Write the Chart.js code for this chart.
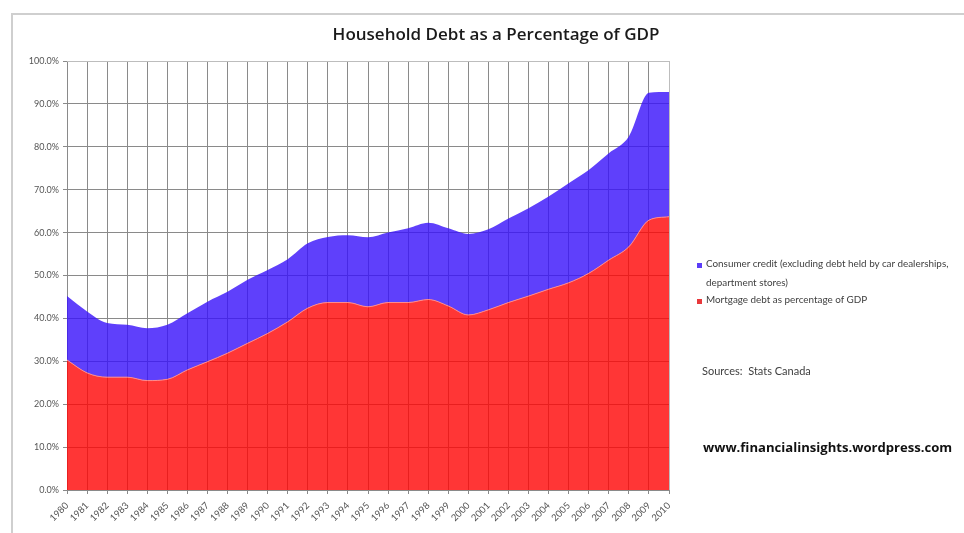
<!DOCTYPE html>
<html>
<head>
<meta charset="utf-8">
<script src="https://cdn.jsdelivr.net/npm/chart.js@4/dist/chart.umd.min.js"></script>
<style>
  html, body { margin: 0; padding: 0; background: #fff; }
  #wrap { position: relative; width: 964px; height: 533px; overflow: hidden; }
  #frame { position: absolute; left: 11px; top: 13px; width: 960px; height: 530px;
           border-left: 2px solid #cfcfcf; border-top: 2px solid #cfcfcf; }
  canvas { position: absolute; left: 0; top: 0; }
  .txt { position: absolute; white-space: nowrap; color: #404040; }
  #title { left: 496px; top: 22px; transform: translateX(-50%);
           font: 600 17px "Open Sans", sans-serif; color: #1a1a1a; }
  .leg { font: 9.9px Lato, sans-serif; }
  .sw { position: absolute; width: 5px; height: 5px; }
  #src { left: 702px; top: 364px; font: 11px Lato, sans-serif; }
  #url { left: 703px; top: 438px; font: bold 13.1px "Open Sans", sans-serif; color: #111; }
</style>
</head>
<body>
<div id="wrap">
  <div id="frame"></div>
  <canvas id="chart" width="964" height="533"></canvas>
  <div id="title" class="txt">Household Debt as a Percentage of GDP</div>
  <div class="sw" style="left:697px;top:263px;background:#5b3cf8"></div>
  <div class="txt leg" style="left:706px;top:257px">Consumer credit (excluding debt held by car dealerships,</div>
  <div class="txt leg" style="left:706px;top:276px">department stores)</div>
  <div class="sw" style="left:697px;top:299px;background:#e8383b"></div>
  <div class="txt leg" style="left:706px;top:293px">Mortgage debt as percentage of GDP</div>
  <div id="src" class="txt">Sources:&nbsp; Stats Canada</div>
  <div id="url" class="txt">www.financialinsights.wordpress.com</div>
</div>
<script>
const years = ['1980','1981','1982','1983','1984','1985','1986','1987','1988','1989',
  '1990','1991','1992','1993','1994','1995','1996','1997','1998','1999',
  '2000','2001','2002','2003','2004','2005','2006','2007','2008','2009','2010'];

// mortgage debt, % of GDP
const mortgage = [30.3, 27.3, 26.3, 26.3, 25.5, 25.8, 28.0, 29.9, 31.9, 34.2,
  36.5, 39.2, 42.4, 43.7, 43.7, 42.7, 43.7, 43.7, 44.4, 42.9,
  40.8, 42.0, 43.7, 45.2, 46.8, 48.3, 50.5, 53.6, 56.7, 62.9, 63.7];

// consumer credit, % of GDP (stacked on top of mortgage)
const consumer = [14.9, 14.3, 12.6, 12.2, 12.2, 12.7, 13.2, 14.0, 14.3, 14.8,
  14.8, 14.6, 15.1, 15.3, 15.7, 16.2, 16.3, 17.3, 17.9, 18.1,
  18.9, 18.8, 19.6, 20.5, 21.6, 23.2, 24.1, 24.9, 25.7, 29.7, 29.1];

const yTicks = [0, 10, 20, 30, 40, 50, 60, 70, 80, 90, 100];

const ctx = document.getElementById('chart').getContext('2d');

new Chart(ctx, {
  type: 'line',
  data: {
    labels: years,
    datasets: [
      {
        label: 'Mortgage debt as percentage of GDP',
        data: mortgage,
        fill: 'origin',
        backgroundColor: 'rgba(255, 4, 4, 0.8)',
        borderColor: '#ff8c8c',
        borderWidth: 1,
        pointRadius: 0,
        cubicInterpolationMode: 'monotone'
      },
      {
        label: 'Consumer credit (excluding debt held by car dealerships, department stores)',
        data: consumer,
        fill: '-1',
        backgroundColor: 'rgba(55, 16, 250, 0.8)',
        borderColor: 'rgba(55, 16, 250, 0)',
        borderWidth: 0,
        pointRadius: 0,
        cubicInterpolationMode: 'monotone'
      }
    ]
  },
  options: {
    responsive: false,
    animation: false,
    layout: { padding: { left: 12, right: 295, top: 61, bottom: 0 } },
    plugins: {
      legend: { display: false },
      title: { display: false },
      tooltip: { enabled: false }
    },
    scales: {
      x: {
        offset: false,
        stacked: true,
        grid: { color: '#8a8a8a', lineWidth: 1, tickLength: 4, drawTicks: true },
        border: { color: '#8a8a8a' },
        ticks: {
          autoSkip: false, maxRotation: 45, minRotation: 45, padding: 6,
          color: '#555', font: { family: 'Lato', size: 9.5 }
        },
        afterFit: s => { s.height = 43; }
      },
      y: {
        stacked: true,
        min: 0, max: 100,
        afterBuildTicks: s => { s.ticks = yTicks.map(v => ({ value: v })); },
        grid: { color: '#8a8a8a', lineWidth: 1, tickLength: 4 },
        border: { color: '#8a8a8a' },
        ticks: {
          padding: 4,
          color: '#555', font: { family: 'Lato', size: 9 },
          callback: v => v.toFixed(1) + '%'
        },
        afterFit: s => { s.width = 55; }
      }
    }
  },
  plugins: [{
    id: 'rightBorder',
    afterDraw(chart) {
      const a = chart.chartArea, c = chart.ctx;
      c.save();
      c.strokeStyle = '#bdbdbd';
      c.lineWidth = 1;
      c.beginPath();
      c.moveTo(a.left, a.top + 0.5); c.lineTo(a.right, a.top + 0.5);
      c.moveTo(a.right + 0.5, a.top); c.lineTo(a.right + 0.5, a.bottom);
      c.stroke();
      c.restore();
    }
  }]
});
</script>
</body>
</html>
